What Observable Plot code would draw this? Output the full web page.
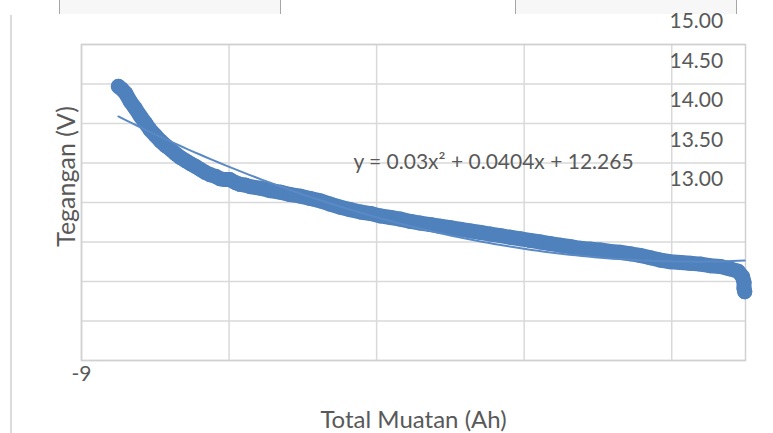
<!DOCTYPE html>
<html>
<head>
<meta charset="utf-8">
<script src="https://cdn.jsdelivr.net/npm/d3@7"></script>
<script src="https://cdn.jsdelivr.net/npm/@observablehq/plot@0.6"></script>
<style>
  html, body { margin: 0; padding: 0; background: #fff; }
  #wrap { position: relative; width: 773px; height: 433px; overflow: hidden; }
  .box { position: absolute; top: 0; height: 14px; background: #f7f7f7; border-left: 1px solid #a6a6a6; border-right: 1px solid #a6a6a6; }
  .vline { position: absolute; left: 10px; top: 15px; width: 2px; height: 418px; background: #dcdcdc; }
  #chart { position: absolute; left: 0; top: 0; }
</style>
</head>
<body>
<div id="wrap">
  <div class="box" style="left:59px;width:220px"></div>
  <div class="box" style="left:515px;width:220px"></div>
  <div class="vline"></div>
  <div id="chart"></div>
</div>
<script>
// Total Muatan (Ah)
const muatan = [
  -8.50, -8.46, -8.40, -8.34, -8.27, -8.20, -8.13, -8.07, -8.00, -7.93,
  -7.86, -7.79, -7.73, -7.66, -7.59, -7.52, -7.46, -7.39, -7.32, -7.25,
  -7.18, -7.12, -7.05, -6.99, -6.91, -6.85, -6.78, -6.71, -6.57, -6.44,
  -6.30, -6.17, -6.03, -5.90, -5.76, -5.63, -5.49, -5.36, -5.22, -5.08,
  -4.95, -4.81, -4.68, -4.54, -4.41, -4.27, -4.14, -4.00, -3.86, -3.73,
  -3.59, -3.46, -3.32, -3.19, -3.05, -2.92, -2.78, -2.65, -2.51, -2.37,
  -2.24, -2.10, -1.97, -1.83, -1.70, -1.56, -1.43, -1.29, -1.15, -1.02,
  -0.88, -0.75, -0.61, -0.48, -0.34, -0.21, -0.10, -0.04, -0.02, -0.02,
  -0.01
];
// Tegangan (V)
const tegangan = [
  14.47, 14.44, 14.38, 14.28, 14.19, 14.09, 14.00, 13.92, 13.85, 13.78,
  13.72, 13.67, 13.62, 13.57, 13.53, 13.49, 13.46, 13.42, 13.38, 13.35,
  13.33, 13.30, 13.29, 13.29, 13.25, 13.23, 13.22, 13.20, 13.18, 13.15,
  13.13, 13.10, 13.08, 13.05, 13.02, 12.98, 12.94, 12.91, 12.88, 12.86,
  12.83, 12.81, 12.79, 12.76, 12.74, 12.72, 12.70, 12.68, 12.66, 12.64,
  12.62, 12.60, 12.58, 12.56, 12.54, 12.52, 12.50, 12.48, 12.46, 12.44,
  12.42, 12.41, 12.40, 12.38, 12.37, 12.35, 12.33, 12.30, 12.27, 12.25,
  12.24, 12.23, 12.22, 12.20, 12.19, 12.16, 12.13, 12.06, 11.99, 11.91,
  11.87
];
// Polynomial trendline coefficients (a x^2 + b x + c)
const trendCoef = [0.03, 0.0404, 12.265];
const trendLabel = ["y = 0.03x\u00B2 + 0.0404x + 12.265"];
// Axis ticks / grid
const xGridTicks = [-9, -7, -5, -3, -1];
const xLabelTicks = [-9];
const yGridTicks = [11, 11.5, 12, 12.5, 13, 13.5, 14, 14.5, 15];
const yLabelTicks = [15, 14.5, 14, 13.5, 13];
const xTitle = ["Total Muatan (Ah)"];
const yTitle = ["Tegangan (V)"];

const points = muatan.map((m, i) => ({muatan: m, tegangan: tegangan[i]}));
const xMin = d3.min(muatan), xMax = d3.max(muatan);
const trend = d3.range(0, 101).map(i => {
  const x = xMin + (xMax - xMin) * i / 100;
  return {muatan: x, tegangan: trendCoef[0] * x * x + trendCoef[1] * x + trendCoef[2]};
});

const blue = "#4f81bd";
const grey = "#d9d9d9";

const chart = Plot.plot({
  width: 773,
  height: 433,
  marginLeft: 81,
  marginRight: 28,
  marginTop: 44,
  marginBottom: 73,
  x: {domain: [-9, 0]},
  y: {domain: [11, 15]},
  style: {fontFamily: "Lato, 'Open Sans', sans-serif", fontSize: "21px", color: "#595959", background: "transparent", overflow: "visible"},
  marks: [
    Plot.gridY(yGridTicks, {stroke: grey, strokeOpacity: 1, strokeWidth: 1.5}),
    Plot.gridX(xGridTicks, {stroke: grey, strokeOpacity: 1, strokeWidth: 1.5}),
    Plot.frame({stroke: "#d0d0d0", strokeWidth: 1.5}),
    Plot.line(points, {x: "muatan", y: "tegangan", stroke: blue, strokeWidth: 15, strokeLinecap: "round", strokeLinejoin: "round"}),
    Plot.dot(points, {x: "muatan", y: "tegangan", r: 7.5, fill: blue, stroke: null}),
    Plot.line(trend, {x: "muatan", y: "tegangan", stroke: "#5a8ac6", strokeWidth: 2}),
    Plot.axisY(yLabelTicks, {anchor: "right", tickSize: 0, tickPadding: 0, dx: -76, dy: -23, tickFormat: d => d.toFixed(2), fontSize: 21, label: null}),
    Plot.axisX(xLabelTicks, {anchor: "bottom", tickSize: 0, tickPadding: 6, tickFormat: d => String(d), fontSize: 21, label: null}),
    Plot.text(xTitle, {frameAnchor: "bottom", dy: 60, fontSize: 24, lineAnchor: "middle", textAnchor: "middle"}),
    Plot.text(yTitle, {frameAnchor: "left", rotate: -90, dx: -15, dy: -26, fontSize: 25, lineAnchor: "middle", textAnchor: "middle"}),
    Plot.text(trendLabel, {frameAnchor: "top", dx: 80, dy: 118, fontSize: 21, lineAnchor: "middle", textAnchor: "middle"})
  ]
});
document.getElementById("chart").appendChild(chart);
</script>
</body>
</html>
